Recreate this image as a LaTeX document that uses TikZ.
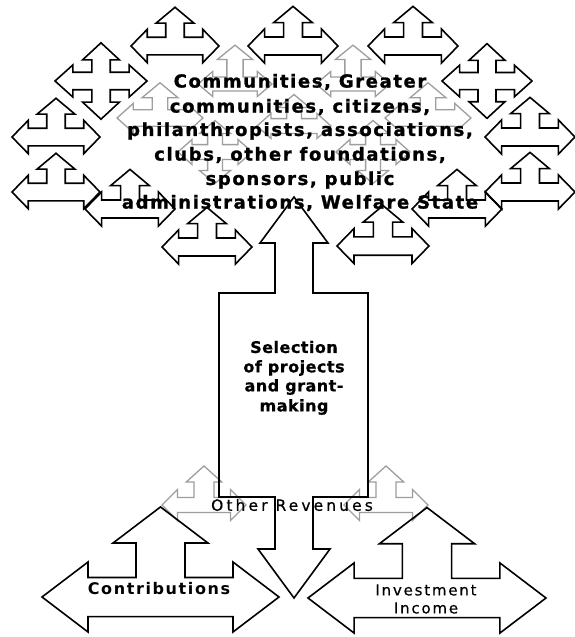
\documentclass[tikz,border=0pt]{standalone}
\usepackage{fontspec}
\setmainfont{DejaVu Sans}
\newfontfamily\crownfont[LetterSpace=9, BoldFeatures={FakeBold=1.2}]{DejaVu Sans}
\newfontfamily\selfont[LetterSpace=3, BoldFeatures={FakeBold=0.6}]{DejaVu Sans}
\newfontfamily\otherfont[LetterSpace=20, FakeBold=0.6]{DejaVu Sans}
\newfontfamily\contribfont[LetterSpace=10]{DejaVu Sans}
\newfontfamily\investfont[LetterSpace=12, FakeBold=0.4]{DejaVu Sans}
\tikzset{
  blk/.style={draw=black, line width=1.6pt, line join=miter},
  gry/.style={draw=black!38, line width=1.3pt, line join=miter},
  crownline/.style={inner sep=0pt, font=\crownfont\bfseries\fontsize{18}{20}\selectfont},
  selline/.style={inner sep=0pt, font=\selfont\bfseries\fontsize{16}{18}\selectfont},
}
\newcommand\setarrowprop[7]{\def\aUT{#1}\def\aUHB{#2}\def\aUHW{#3}\def\aSW{#4}\def\aBH{#5}\def\aHH{#6}\def\aHB{#7}}
% left-right-up arrow: centre x, axis y, half width, style
\newcommand\arrowLRU[4]{\draw[#4]
 ({#1},{#2-\aUT*#3}) -- ({#1+\aUHW*#3},{#2-\aUHB*#3}) -- ({#1+\aSW*#3},{#2-\aUHB*#3}) -- ({#1+\aSW*#3},{#2-\aBH*#3})
 -- ({#1+\aHB*#3},{#2-\aBH*#3}) -- ({#1+\aHB*#3},{#2-\aHH*#3}) -- ({#1+#3},{#2}) -- ({#1+\aHB*#3},{#2+\aHH*#3})
 -- ({#1+\aHB*#3},{#2+\aBH*#3}) -- ({#1-\aHB*#3},{#2+\aBH*#3}) -- ({#1-\aHB*#3},{#2+\aHH*#3}) -- ({#1-#3},{#2})
 -- ({#1-\aHB*#3},{#2-\aHH*#3}) -- ({#1-\aHB*#3},{#2-\aBH*#3}) -- ({#1-\aSW*#3},{#2-\aBH*#3}) -- ({#1-\aSW*#3},{#2-\aUHB*#3})
 -- ({#1-\aUHW*#3},{#2-\aUHB*#3}) -- cycle;}
% quad arrow
\newcommand\arrowQuad[4]{\draw[#4]
 ({#1},{#2-\aUT*#3}) -- ({#1+\aUHW*#3},{#2-\aUHB*#3}) -- ({#1+\aSW*#3},{#2-\aUHB*#3}) -- ({#1+\aSW*#3},{#2-\aBH*#3})
 -- ({#1+\aHB*#3},{#2-\aBH*#3}) -- ({#1+\aHB*#3},{#2-\aHH*#3}) -- ({#1+#3},{#2}) -- ({#1+\aHB*#3},{#2+\aHH*#3})
 -- ({#1+\aHB*#3},{#2+\aBH*#3}) -- ({#1+\aSW*#3},{#2+\aBH*#3}) -- ({#1+\aSW*#3},{#2+\aUHB*#3}) -- ({#1+\aUHW*#3},{#2+\aUHB*#3})
 -- ({#1},{#2+\aUT*#3}) -- ({#1-\aUHW*#3},{#2+\aUHB*#3}) -- ({#1-\aSW*#3},{#2+\aUHB*#3}) -- ({#1-\aSW*#3},{#2+\aBH*#3})
 -- ({#1-\aHB*#3},{#2+\aBH*#3}) -- ({#1-\aHB*#3},{#2+\aHH*#3}) -- ({#1-#3},{#2})
 -- ({#1-\aHB*#3},{#2-\aHH*#3}) -- ({#1-\aHB*#3},{#2-\aBH*#3}) -- ({#1-\aSW*#3},{#2-\aBH*#3}) -- ({#1-\aSW*#3},{#2-\aUHB*#3})
 -- ({#1-\aUHW*#3},{#2-\aUHB*#3}) -- cycle;}
\begin{document}
\begin{tikzpicture}[x=1pt,y=-1pt]
\useasboundingbox (0,0) rectangle (575,637);
\fill[white] (0,0) rectangle (575,637);

% ---- gray inner layer (crown) ----
\setarrowprop{1.05}{0.66}{0.48}{0.22}{0.19}{0.34}{0.60}
\arrowLRU{235}{84}{37}{gry}
\arrowLRU{353}{84}{37}{gry}
\setarrowprop{0.82}{0.47}{0.42}{0.18}{0.19}{0.34}{0.62}
\arrowLRU{160}{118}{43}{gry}
\arrowLRU{428}{118}{43}{gry}
\setarrowprop{0.85}{0.50}{0.42}{0.20}{0.20}{0.34}{0.62}
\arrowQuad{215}{152}{37}{gry}
\arrowQuad{373}{152}{37}{gry}
\arrowLRU{294}{126}{37}{gry}

% ---- gray shapes near Other Revenues ----
\setarrowprop{0.93}{0.55}{0.42}{0.24}{0.18}{0.37}{0.63}
\arrowLRU{204}{505}{42}{gry}
\arrowLRU{386}{505}{42}{gry}

% ---- black crown ----
\setarrowprop{0.88}{0.52}{0.43}{0.21}{0.20}{0.38}{0.63}
\arrowLRU{175}{46}{44}{blk}
\arrowLRU{293}{46}{45}{blk}
\arrowLRU{413}{46}{45}{blk}
\arrowLRU{56}{137}{44}{blk}
\arrowLRU{530}{137}{45}{blk}
\arrowLRU{56}{192}{44}{blk}
\arrowLRU{530}{192}{45}{blk}
\arrowLRU{130}{209}{45}{blk}
\arrowLRU{457}{209}{45}{blk}
\arrowLRU{207}{247}{45}{blk}
\arrowLRU{383}{246}{46}{blk}
\setarrowprop{0.83}{0.46}{0.40}{0.20}{0.19}{0.35}{0.61}
\arrowQuad{101}{81}{46}{blk}
\arrowQuad{487}{81}{45}{blk}

% ---- trunk (up-down arrow callout) ----
\draw[blk] (294,197) -- (328,243) -- (313,243) -- (313,293) -- (368,293) -- (368,497) -- (313,497) -- (313,549)
  -- (330,549) -- (294,598) -- (258,549) -- (275,549) -- (275,497) -- (219,497) -- (219,293) -- (275,293)
  -- (275,243) -- (260,243) -- cycle;

% ---- bottom arrows ----
\setarrowprop{0.76}{0.456}{0.40}{0.207}{0.165}{0.295}{0.612}
\arrowLRU{160.5}{597}{118.5}{blk}
\arrowLRU{427}{598}{119}{blk}

% ---- texts ----
\node[crownline] (crown1) at (300,82) {Communities, Greater};
\node[crownline] (crown2) at (300,107) {communities, citizens,};
\node[crownline] (crown3) at (300,131) {philanthropists, associations,};
\node[crownline] (crown4) at (300,155) {clubs, other foundations,};
\node[crownline] (crown5) at (300,180) {sponsors, public};
\node[crownline] (crown6) at (300,203) {administrations, Welfare State};

\node[selline] (sel1) at (294,347) {Selection};
\node[selline] (sel2) at (294,368) {of projects};
\node[selline] (sel3) at (294,387) {and grant-};
\node[selline] (sel4) at (294,407) {making};

\node[inner sep=0pt, font=\otherfont\fontsize{15.5}{18}\selectfont]
  (other) at (292,505) {Other Revenues};
\node[inner sep=0pt, font=\contribfont\bfseries\fontsize{16}{20}\selectfont]
  (contrib) at (159,589) {Contributions};
\begin{scope}
\clip (355,560) rectangle (500,613);
\node[inner sep=0pt, font=\investfont\fontsize{15}{18}\selectfont]
  (invest1) at (426,590) {Investment};
\node[inner sep=0pt, font=\investfont\fontsize{15}{18}\selectfont]
  (invest2) at (426,608) {Income};
\end{scope}
\end{tikzpicture}
\end{document}
